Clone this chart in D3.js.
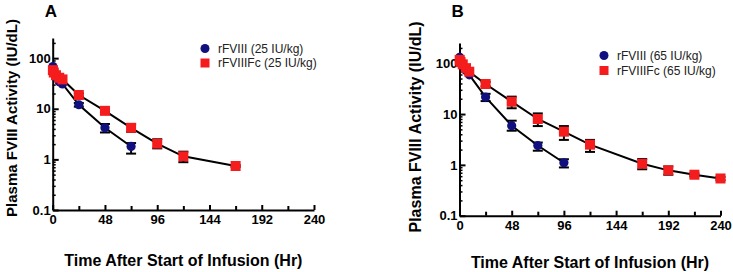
<!DOCTYPE html>
<html>
<head>
<meta charset="utf-8">
<script src="https://cdn.jsdelivr.net/npm/d3@7"></script>
<style>
  body { margin: 0; background: #fff; }
  svg { font-family: "Liberation Sans", Arial, Helvetica, sans-serif; }
</style>
</head>
<body>
<svg id="chart" width="733" height="272"></svg>
<script>
// Panel A (25 IU/kg)
const hoursA1 = [0.17, 1, 3, 6, 9, 24, 48, 72];
const meanA1 = [68, 55, 42, 34, 31, 12, 4.2, 1.8];
const lowA1 = [null, null, null, null, null, 11, 3.4, 1.3];
const highA1 = [null, null, null, null, null, 13, 5.0, 2.1];

const hoursA2 = [0.17, 1, 3, 6, 9, 24, 48, 72, 96, 120, 168];
const meanA2 = [58, 52, 46, 41, 38, 18.7, 9.1, 4.2, 2.05, 1.15, 0.74];
const lowA2 = [null, null, null, null, null, 17.5, 8.4, 3.5, 1.65, 0.88, 0.71];
const highA2 = [null, null, null, null, null, 20, 9.8, 5.0, 2.5, 1.42, 0.77];

// Panel B (65 IU/kg)
const hoursB1 = [0.17, 1, 3, 6, 9, 24, 48, 72, 96];
const meanB1 = [131, 110, 90, 72, 59, 21.6, 5.9, 2.4, 1.1];
const lowB1 = [null, null, null, null, null, 18, 4.7, 1.9, 0.89];
const highB1 = [null, null, null, null, null, 25, 7.4, 2.75, 1.29];

const hoursB2 = [0.17, 1, 3, 6, 9, 24, 48, 72, 96, 120, 168, 192, 216, 240];
const meanB2 = [116, 105, 95, 80, 68, 39, 17.5, 8.0, 4.5, 2.5, 1.05, 0.78, 0.64, 0.54];
const lowB2 = [null, null, null, null, null, 35, 13, 5.8, 3.1, 1.8, 0.82, 0.64, 0.6, 0.5];
const highB2 = [null, null, null, null, null, 43, 22, 10.3, 5.8, 3.1, 1.3, 0.93, 0.68, 0.58];

// Axes
const xTicks = [0, 48, 96, 144, 192, 240];
const xMinor = [24, 72, 120, 168, 216];
const yTicks = [0.1, 1, 10, 100];
const yMax = 250;

const blue = '#10107e';
const red = '#f41c1c';

const svg = d3.select('#chart');

const toRows = (h, m, lo, hi) => h.map((t, i) => ({t, v: m[i], lo: lo[i], hi: hi[i]}));

const drawPanel = (p) => {
  const x = d3.scaleLinear().domain([0, 240]).range([p.x0, p.x1]);
  const y = d3.scaleLog().domain([0.1, yMax]).range([p.y0, p.y1]);
  const g = svg.append('g');

  // Minor log ticks
  const yMinor = [];
  [0.1, 1, 10, 100].forEach(d => {
    for (let k = 2; k <= 9; k++) if (d * k <= yMax) yMinor.push(d * k);
  });
  g.append('g')
    .attr('transform', `translate(${p.x0},0)`)
    .call(d3.axisLeft(y).tickValues(yMinor).tickSize(-3).tickFormat(''))
    .call(a => a.select('.domain').remove())
    .selectAll('line').attr('stroke-width', 1.5);
  g.append('g')
    .attr('transform', `translate(0,${p.y0})`)
    .call(d3.axisBottom(x).tickValues(xMinor).tickSize(-4).tickFormat(''))
    .call(a => a.select('.domain').remove())
    .selectAll('line').attr('stroke-width', 2);

  // Main axes
  const yAxis = g.append('g')
    .attr('transform', `translate(${p.x0},0)`)
    .call(d3.axisLeft(y).tickValues(yTicks).tickFormat(d => String(d))
      .tickSizeInner(-6).tickSizeOuter(0).tickPadding(2));
  const xAxis = g.append('g')
    .attr('transform', `translate(0,${p.y0})`)
    .call(d3.axisBottom(x).tickValues(xTicks)
      .tickSizeInner(-5).tickSizeOuter(0).tickPadding(5));
  [xAxis, yAxis].forEach(a => {
    a.select('.domain').attr('stroke-width', 2);
    a.selectAll('line').attr('stroke-width', 2);
    a.selectAll('text')
      .attr('font-size', 13)
      .attr('font-weight', 'bold')
      .attr('fill', '#000')
      .attr('font-family', '"Liberation Sans", Arial, sans-serif');
  });

  const line = d3.line().x(d => x(d.t)).y(d => y(d.v));

  p.series.forEach(s => {
    const rows = s.rows;
    g.append('path')
      .datum(rows)
      .attr('d', line)
      .attr('fill', 'none')
      .attr('stroke', '#000')
      .attr('stroke-width', 2);

    const eb = g.append('g').attr('stroke', '#000').attr('stroke-width', 2);
    rows.filter(d => d.lo != null).forEach(d => {
      eb.append('line')
        .attr('x1', x(d.t)).attr('x2', x(d.t))
        .attr('y1', y(d.lo)).attr('y2', y(d.hi));
      [d.lo, d.hi].forEach(v => {
        eb.append('line')
          .attr('x1', x(d.t) - 5).attr('x2', x(d.t) + 5)
          .attr('y1', y(v)).attr('y2', y(v));
      });
    });
  });

  p.series.forEach(s => {
    const m = g.append('g');
    if (s.shape === 'circle') {
      m.selectAll('circle').data(s.rows).join('circle')
        .attr('cx', d => x(d.t)).attr('cy', d => y(d.v))
        .attr('r', 4.6).attr('fill', blue);
    } else {
      m.selectAll('rect').data(s.rows).join('rect')
        .attr('x', d => x(d.t) - 5).attr('y', d => y(d.v) - 5)
        .attr('width', 10).attr('height', 10).attr('fill', red);
    }
  });

  // Legend
  const lg = g.append('g').attr('font-size', 12).attr('fill', '#222');
  lg.append('circle').attr('cx', p.legX).attr('cy', p.legY1).attr('r', 4.5).attr('fill', blue);
  lg.append('rect').attr('x', p.legX - 4.5).attr('y', p.legY2 - 4.5)
    .attr('width', 9).attr('height', 9).attr('fill', red);
  lg.append('text').attr('x', p.legX + 13).attr('y', p.legY1 + 4.2).text(p.names[0]);
  lg.append('text').attr('x', p.legX + 13).attr('y', p.legY2 + 4.2).text(p.names[1]);

  // Titles
  g.append('text')
    .attr('x', p.x0 - 8).attr('y', 17)
    .attr('font-size', 17).attr('font-weight', 'bold')
    .text(p.letter);
  g.append('text')
    .attr('transform', `translate(${p.yLabX},${p.yLabY}) rotate(-90)`)
    .attr('text-anchor', 'middle')
    .attr('font-size', p.yLabSize).attr('font-weight', 'bold')
    .text('Plasma FVIII Activity (IU/dL)');
  g.append('text')
    .attr('x', (p.x0 + p.x1) / 2).attr('y', p.xLabY)
    .attr('text-anchor', 'middle')
    .attr('font-size', 16).attr('font-weight', 'bold')
    .text('Time After Start of Infusion (Hr)');
};

drawPanel({
  letter: 'A',
  x0: 52.7, x1: 314, y0: 210, y1: 38,
  legX: 205, legY1: 48.5, legY2: 63,
  names: ['rFVIII (25 IU/kg)', 'rFVIIIFc (25 IU/kg)'],
  yLabX: 17, yLabY: 118, yLabSize: 15, xLabY: 266,
  series: [
    {shape: 'circle', rows: toRows(hoursA1, meanA1, lowA1, highA1)},
    {shape: 'square', rows: toRows(hoursA2, meanA2, lowA2, highA2)}
  ]
});

drawPanel({
  letter: 'B',
  x0: 459.5, x1: 720.5, y0: 215.7, y1: 43,
  legX: 604, legY1: 55.5, legY2: 70.5,
  names: ['rFVIII (65 IU/kg)', 'rFVIIIFc (65 IU/kg)'],
  yLabX: 421, yLabY: 127, yLabSize: 16, xLabY: 268,
  series: [
    {shape: 'circle', rows: toRows(hoursB1, meanB1, lowB1, highB1)},
    {shape: 'square', rows: toRows(hoursB2, meanB2, lowB2, highB2)}
  ]
});
</script>
</body>
</html>
